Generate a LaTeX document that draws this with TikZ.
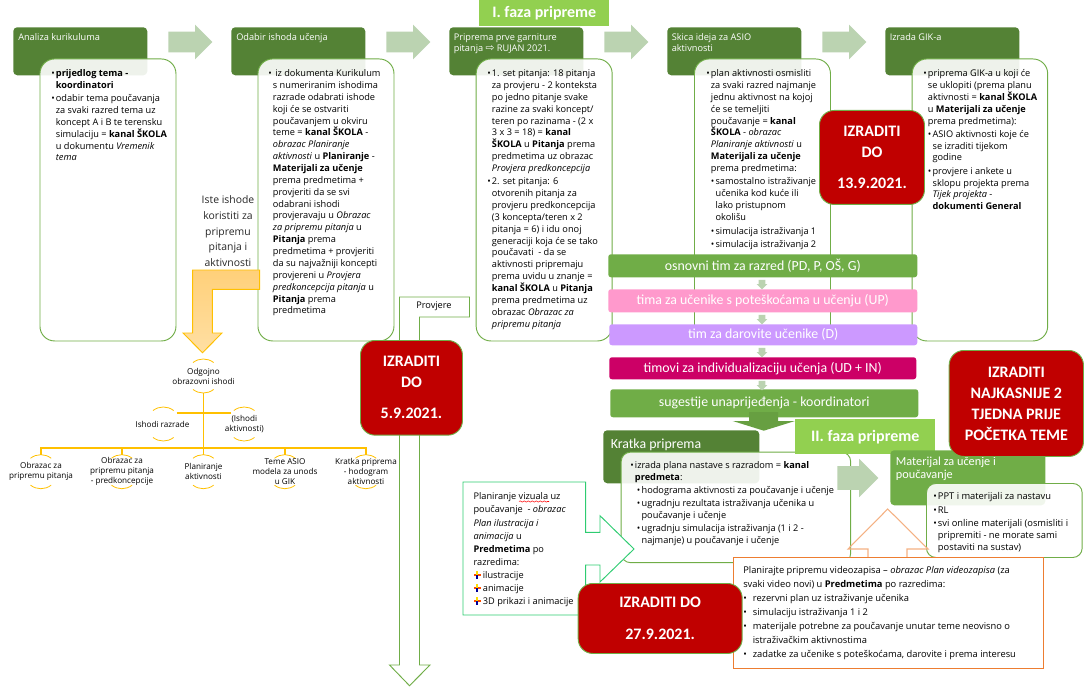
\documentclass[tikz,border=0pt]{standalone}
\usepackage{fontspec}
\usetikzlibrary{shapes.arrows,decorations.pathmorphing}
\setmainfont{Open Sans}
\newfontfamily\calib{Carlito}
\newfontfamily\symb{DejaVu Sans}
\definecolor{hdrdark}{HTML}{548235}
\definecolor{leaf}{HTML}{70AD47}
\definecolor{lime}{HTML}{92D050}
\definecolor{pinkbar}{HTML}{FF99CC}
\definecolor{violetbar}{HTML}{CC99FF}
\definecolor{magbar}{HTML}{CC0066}
\definecolor{redbox}{HTML}{C00000}
\definecolor{pale}{HTML}{BBD3B1}
\definecolor{orgline}{HTML}{FFC000}
\definecolor{bendtop}{HTML}{FFD07A}
\definecolor{bendbot}{HTML}{FFDFA3}
\definecolor{mint}{HTML}{2ECC71}
\definecolor{oran}{HTML}{ED7D31}
\definecolor{oranlt}{HTML}{F4B183}
\newcommand{\bulpt}{\makebox[3.5pt][l]{\textbullet}}
\newcommand{\indpt}{\hspace*{3.5pt}}
\newcommand{\subpt}{\hspace*{3.5pt}\bulpt}
\newcommand{\subin}{\hspace*{7pt}}
\newcommand{\bodyfont}{\fontsize{6.9}{8.9}\selectfont}
\tikzset{
  boxsize/.style 2 args={minimum width=#1*0.75pt, minimum height=#2*0.75pt, anchor=north west, inner sep=0pt},
  headbox/.style={fill=hdrdark, rounded corners=3pt},
  bodybox/.style={draw=leaf, line width=.7pt, fill=white, fill opacity=.9, rounded corners=11pt},
  flowarrow/.style={single arrow, anchor=tail, fill=pale, inner sep=0pt, text height=15pt, text depth=0pt, text width=0pt, minimum height=33pt, single arrow head extend=5.25pt, single arrow tip angle=90},
  downtick/.style={single arrow, shape border rotate=270, fill=pale, inner sep=0pt, text width=4.5pt, text height=0pt, text depth=0pt, minimum height=7pt, single arrow head extend=1.5pt, single arrow tip angle=90},
  phase/.style={fill=lime, text=white, font=\calib\fontsize{12}{14}\selectfont\bfseries},
  bar/.style={rounded corners=2pt, text=white, font=\calib\fontsize{10.4}{12}\selectfont},
  deadline/.style={fill=redbox, draw=leaf, line width=.7pt, rounded corners=11pt, text=white, align=center, font=\calib\fontsize{12}{15.75}\selectfont\bfseries},
  txt/.style={anchor=north west, inner sep=0pt, align=left, text=black, font=\bodyfont},
  headtxt/.style={anchor=north west, inner sep=0pt, align=left, text=white, font=\bodyfont},
  orgcirc/.style={circle, inner sep=0pt, minimum size=25.2pt},
  orgtxt/.style={inner sep=0pt, align=center, text=black, font=\fontsize{6.1}{7.5}\selectfont},
  orgedge/.style={draw=orgline, line width=.9pt},
}
\begin{document}
\begin{tikzpicture}[x=0.75pt,y=-0.75pt]
    \useasboundingbox (0,0) rectangle (1092,688);
    % arrow down from Provjere
    \draw [leaf, line width=.7pt, fill=white] (399.5,297) -- (469.5,297) -- (469.5,317) -- (419.5,317)
        -- (419.5,665) -- (430,665) -- (409.5,685.7) -- (389.5,665) -- (399.5,665) -- cycle;
    \node [txt] (provjere) at (416,300) {\strut Provjere};
    % five first columns
    \node [headbox, boxsize={134}{48}] (headA) at (13,27) {};
    \node [headbox, boxsize={134}{48}] (headB) at (231,27) {};
    \node [headbox, boxsize={134}{48}] (headC) at (449,27) {};
    \node [headbox, boxsize={134}{48}] (headD) at (667,27) {};
    \node [headbox, boxsize={134}{48}] (headE) at (885,27) {};
    \node [bodybox, boxsize={136}{282}] (bodyA) at (39.5,58.5) {};
    \node [bodybox, boxsize={136}{282}] (bodyB) at (257.5,58.5) {};
    \node [bodybox, boxsize={136}{282}] (bodyC) at (475.7,58.5) {};
    \node [bodybox, boxsize={136}{282}] (bodyD) at (694,58.5) {};
    \node [bodybox, boxsize={135.5}{282}] (bodyE) at (911.7,58.5) {};
    \node [flowarrow] (arrA) at (168,42) {};
    \node [flowarrow] (arrB) at (386,42) {};
    \node [flowarrow] (arrC) at (604,42) {};
    \node [flowarrow] (arrD) at (822,42) {};
    \node [phase, boxsize={130}{26}] (phaseA) at (479,0) {I. faza pripreme};
    \node [headtxt] (titleA) at (18,31.5) {\strut Analiza kurikuluma};
    \node [headtxt] (titleB) at (236,31.5) {\strut Odabir ishoda učenja};
    \node [headtxt] (titleC) at (453.5,31.5) {\strut Priprema prve garniture\\pitanja {\symb\fontsize{8}{8}\selectfont ⇨} RUJAN 2021.};
    \node [headtxt] (titleD) at (671.5,31.5) {\strut Skica ideja za ASIO\\aktivnosti};
    \node [headtxt] (titleE) at (889.5,31.5) {\strut Izrada GIK-a};
    \node [txt] (textA) at (51,68) {\strut\bulpt\textbf{prijedlog tema -}\\\indpt\textbf{koordinatori}\\[1pt]
        \bulpt odabir tema poučavanja\\\indpt za svaki razred tema uz\\\indpt koncept A i B te terensku\\
        \indpt simulaciju = \textbf{kanal ŠKOLA}\\\indpt u dokumentu \textit{Vremenik}\\\indpt\textit{tema}};
    \node [txt] (textB) at (268,68) {\strut\bulpt\ iz dokumenta Kurikulum\\\indpt s numeriranim ishodima\\\indpt razrade odabrati ishode\\
        \indpt koji će se ostvariti\\\indpt poučavanjem u okviru\\\indpt teme = \textbf{kanal ŠKOLA} -\\
        \indpt\textit{obrazac Planiranje}\\\indpt\textit{aktivnosti} u \textbf{Planiranje} -\\\indpt\textbf{Materijali za učenje}\\
        \indpt prema predmetima +\\\indpt provjeriti da se svi\\\indpt odabrani ishodi\\
        \indpt provjeravaju u \textit{Obrazac}\\\indpt\textit{za pripremu pitanja} u\\\indpt\textbf{Pitanja} prema\\
        \indpt predmetima + provjeriti\\\indpt da su najvažniji koncepti\\\indpt provjereni u \textit{Provjera}\\
        \indpt\textit{predkoncepcija pitanja} u\\\indpt\textbf{Pitanja} prema\\\indpt predmetima};
    \node [txt] (textC) at (487,68) {\strut\bulpt 1. set pitanja: 18 pitanja\\\indpt za provjeru - 2 konteksta\\\indpt po jedno pitanje svake\\
        \indpt razine za svaki koncept/\\\indpt teren po razinama - (2 x\\\indpt 3 x 3 = 18) = \textbf{kanal}\\
        \indpt\textbf{ŠKOLA} u \textbf{Pitanja} prema\\\indpt predmetima uz obrazac\\\indpt\textit{Provjera predkoncepcija}\\[1pt]
        \bulpt 2. set pitanja: 6\\\indpt otvorenih pitanja za\\\indpt provjeru predkoncepcija\\
        \indpt (3 koncepta/teren x 2\\\indpt pitanja = 6) i idu onoj\\\indpt generaciji koja će se tako\\
        \indpt poučavati~ - da se\\\indpt aktivnosti pripremaju\\\indpt prema uvidu u znanje =\\
        \indpt\textbf{kanal ŠKOLA} u \textbf{Pitanja}\\\indpt prema predmetima uz\\\indpt obrazac \textit{Obrazac za}\\\indpt\textit{pripremu pitanja}};
    \node [txt] (textD) at (706,68) {\strut\bulpt plan aktivnosti osmisliti\\\indpt za svaki razred najmanje\\\indpt jednu aktivnost na kojoj\\
        \indpt će se temeljiti\\\indpt poučavanje = \textbf{kanal}\\\indpt\textbf{ŠKOLA} - \textit{obrazac}\\
        \indpt\textit{Planiranje aktivnosti} u\\\indpt\textbf{Materijali za učenje}\\\indpt prema predmetima:\\[1pt]
        \subpt samostalno istraživanje\\\subin učenika kod kuće ili\\\subin lako pristupnom\\\subin okolišu\\[2pt]
        \subpt simulacija istraživanja 1\\[.7pt]\subpt simulacija istraživanja 2};
    \node [txt] (textE) at (923,68) {\strut\bulpt priprema GIK-a u koji će\\\indpt se uklopiti (prema planu\\\indpt aktivnosti = \textbf{kanal ŠKOLA}\\
        \indpt u \textbf{Materijali za učenje}\\\indpt prema predmetima):\\[1pt]\subpt ASIO aktivnosti koje će\\
        \subin se izraditi tijekom\\\subin godine\\[1pt]\subpt provjere i ankete u\\\subin sklopu projekta prema\\
        \subin\textit{Tijek projekta} -\\\subin\textbf{dokumenti General}};
    \node [anchor=north, inner sep=0pt, align=center, text=black!85, font=\fontsize{7.8}{11.9}\selectfont] (same) at (228,192)
        {\strut Iste ishode\\koristiti za\\pripremu\\pitanja i\\aktivnosti};
    % team bars
    \node [bar, fill=leaf, boxsize={309}{23}] (barA) at (608,254) {osnovni tim za razred (PD, P, OŠ, G)};
    \node [bar, fill=pinkbar, boxsize={309}{23}] (barB) at (608,289) {tima za učenike s poteškoćama u učenju (UP)};
    \node [bar, fill=violetbar, boxsize={308}{21}] (barC) at (609,324) {tim za darovite učenike (D)};
    \node [bar, fill=magbar, boxsize={307}{22}] (barD) at (609,357) {timovi za individualizaciju učenja (UD + IN)};
    \node [bar, fill=leaf, boxsize={308}{28}] (barE) at (610,389) {sugestije unaprijeđenja - koordinatori};
    \node [downtick] (tickA) at (762,283) {};
    \node [downtick] (tickB) at (762,318) {};
    \node [downtick] (tickC) at (762,351) {};
    \node [downtick] (tickD) at (762,384) {};
    % second phase
    \draw [fill=leaf!92!black, draw=none] (749,412) -- (778,412) -- (778,421) -- (795,421) -- (763.8,430.7) -- (732.7,421) -- (749,421) -- cycle;
    \node [headbox, boxsize={156}{53}] (headF) at (603,430) {};
    \node [headtxt, font=\calib\fontsize{10.4}{12}\selectfont] (titleF) at (610.5,437) {\strut Kratka priprema};
    \node [bodybox, rounded corners=7pt, boxsize={229.5}{110.5}] (bodyF) at (620.7,451.7) {};
    \node [phase, boxsize={140}{35}] (phaseB) at (795,419) {II. faza pripreme};
    \node [flowarrow, text height=17.25pt, minimum height=30.75pt, single arrow head extend=5.6pt] (arrF) at (837,478) {};
    \node [headbox, fill=leaf, boxsize={155}{55}] (headG) at (890,450) {};
    \node [headtxt, font=\calib\fontsize{9.2}{10}\selectfont] (titleG) at (895.7,456) {\strut Materijal za učenje i\\poučavanje};
    \node [bodybox, rounded corners=7pt, boxsize={155.7}{74}] (bodyG) at (926,483) {};
    \node [txt] (textF) at (630,460) {\strut\bulpt izrada plana nastave s razradom = \textbf{kanal}\\\indpt\textbf{predmeta}:\\[.7pt]
        \hspace*{5pt}\bulpt hodograma aktivnosti za poučavanje i učenje\\[1pt]\hspace*{5pt}\bulpt ugradnju rezultata istraživanja učenika u\\
        \hspace*{8.5pt}poučavanje i učenje\\[1pt]\hspace*{5pt}\bulpt ugradnju simulacija istraživanja (1 i 2 -\\\hspace*{8.5pt}najmanje) u poučavanje i učenje};
    \node [txt, font=\fontsize{7}{8.9}\selectfont] (textG) at (933,491) {\strut\bulpt PPT i materijali za nastavu\\[1.5pt]\bulpt RL\\[1pt]\bulpt svi online materijali (osmisliti i\\
        \indpt pripremiti - ne morate sami\\\indpt postaviti na sustav)};
    % call-out of the visuals
    \draw [mint, line width=.7pt, fill=white] (463,482) -- (585.7,482) -- (585.7,532.3) -- (600,532.3) -- (600,515.7) -- (634,549)
        -- (600,582) -- (600,565) -- (585.7,565) -- (585.7,615) -- (463,615) -- cycle;
    \node [txt, font=\fontsize{6.9}{9.8}\selectfont] (textH) at (473.3,490.5) {\strut Planiranje vizuala uz\\poučavanje~ - \textit{obrazac}\\\textit{Plan ilustracija i}\\
        \textit{animacija} u\\\textbf{Predmetima} po\\razredima:\\\hspace*{7pt}ilustracije\\\hspace*{7pt}animacije\\\hspace*{7pt}3D prikazi i animacije};
    \draw [red, line width=.4pt, decorate, decoration={snake, amplitude=.5pt, segment length=3pt}] (519,501.5) -- (549,501.5);
    \foreach \rowy in {575,588,601} {
        \fill [red!70!yellow] (473.5,\rowy-1) rectangle (480.5,\rowy+1);
        \fill [yellow!80!orange] (476,\rowy-4) rectangle (478,\rowy);
        \fill [blue!60!black] (476,\rowy) rectangle (478,\rowy+3.5);
    }
    % call-out of the videos
    \draw [oranlt, line width=.8pt] (868,557) -- (868,549) -- (848,549) -- (887.7,509) -- (928,549) -- (907,549) -- (907,557);
    \node [draw=oran, line width=.8pt, fill=white, boxsize={309.7}{111.3}] (videobox) at (733,556.7) {};
    \node [txt, font=\fontsize{7}{10.5}\selectfont] (textV) at (743,563) {\strut Planirajte pripremu videozapisa – \textit{obrazac Plan videozapisa} (za\\svaki video novi) u \textbf{Predmetima} po razredima:\\
        \makebox[7.2pt][l]{\textbullet}rezervni plan uz istraživanje učenika\\\makebox[7.2pt][l]{\textbullet}simulaciju istraživanja 1 i 2\\
        \makebox[7.2pt][l]{\textbullet}materijale potrebne za poučavanje unutar teme neovisno o\\\hspace*{7.2pt}istraživačkim aktivnostima\\
        \makebox[7.2pt][l]{\textbullet}zadatke za učenike s poteškoćama, darovite i prema interesu};
    % bent arrow to the tree
    \draw [orgline, line width=.7pt, top color=bendtop, bottom color=bendbot] (259.7,270) -- (192.7,270) -- (192.7,333) -- (183,333)
        -- (202.5,352.7) -- (222,333) -- (212.3,333) -- (212.3,289.3) -- (259.7,289.3) -- cycle;
    % tree
    \node [orgcirc] (odg) at (203.5,376) {};
    \node [orgcirc] (razr) at (163.5,424) {};
    \node [orgcirc] (aktiv) at (244.3,424) {};
    \node [orgcirc] (obrA) at (41,471.7) {};
    \node [orgcirc] (obrB) at (122,471.7) {};
    \node [orgcirc] (plan) at (203.5,471.7) {};
    \node [orgcirc] (teme) at (285,471.7) {};
    \node [orgcirc] (krat) at (366,471.7) {};
    \coordinate (bus) at (203.5,448);
    \foreach \nd in {odg,razr,aktiv,obrA,obrB,plan,teme,krat}
        \draw [orgline, line width=.6pt] (\nd.128) arc (128:52:12.6pt) (\nd.232) arc (232:308:12.6pt);
    \draw [orgline, line width=1.4pt] (odg.south) -- (plan.north);
    \draw [orgedge] (razr.40) -- (aktiv.140);
    \draw [orgedge] (bus) -| (obrA.north);
    \draw [orgedge] (bus) -| (obrB.north);
    \draw [orgedge] (bus) -| (teme.north);
    \draw [orgedge] (bus) -| (krat.north);
    \node [orgtxt] (odgT) at (odg) {Odgojno\\obrazovni ishodi};
    \node [orgtxt] (razrT) at (162.5,424) {Ishodi razrade};
    \node [orgtxt] (aktivT) at (aktiv) {(Ishodi\\aktivnosti)};
    \node [orgtxt] (obrAT) at (obrA) {Obrazac za\\pripremu pitanja};
    \node [orgtxt] (obrBT) at (obrB) {Obrazac za\\pripremu pitanja\\- predkoncepcije};
    \node [orgtxt] (planT) at (plan) {Planiranje\\aktivnosti};
    \node [orgtxt] (temeT) at (teme) {Teme ASIO\\modela za unods\\u GIK};
    \node [orgtxt] (kratT) at (krat) {Kratka priprema\\- hodogram\\aktivnosti};
    % deadlines
    \node [deadline, boxsize={105}{94}] (dueB) at (819,110) {IZRADITI\\DO\\[7.5pt]13.9.2021.};
    \node [deadline, boxsize={102}{94.7}] (dueA) at (360,340) {IZRADITI\\DO\\[7.5pt]5.9.2021.};
    \node [deadline, boxsize={134.3}{106}] (dueD) at (948.7,350) {IZRADITI\\NAJKASNIJE 2\\TJEDNA PRIJE\\POČETKA TEME};
    \node [deadline, boxsize={164}{70}] (dueC) at (577.7,583) {IZRADITI DO\\[8pt]27.9.2021.};
\end{tikzpicture}
\end{document}
